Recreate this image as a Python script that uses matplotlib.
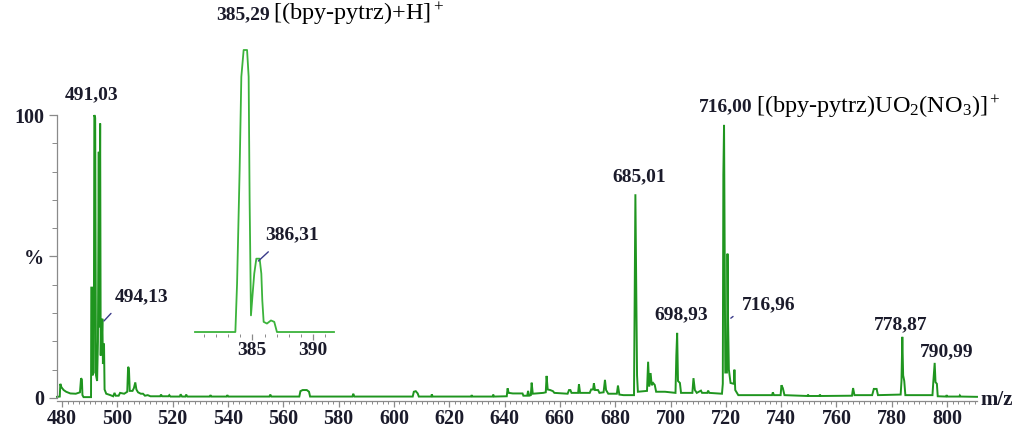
import matplotlib
matplotlib.use("Agg")
import matplotlib.pyplot as plt
from matplotlib.ticker import MultipleLocator, FixedLocator

plt.rcParams['font.family'] = ['Liberation Serif', 'DejaVu Serif']
plt.rcParams['mathtext.fontset'] = 'custom'
plt.rcParams['mathtext.rm'] = 'Liberation Serif'
plt.rcParams['mathtext.it'] = 'Liberation Serif:italic'
plt.rcParams['mathtext.bf'] = 'Liberation Serif:bold'

# --- spectrum profile (m/z, relative intensity %) ---
main_pts = [
    (478.2, 0.4), (479.2, 0.5), (479.4, 5.0), (479.8, 3.8), (480.6, 2.8), (481.5, 2.2),
    (483.0, 1.6), (485.0, 1.5), (486.5, 2.0), (486.9, 7.0), (487.2, 6.5), (487.4, 1.0),
    (487.8, 0.3), (490.5, 0.3), (490.6, 39.0), (490.9, 39.0), (491.0, 8.0), (491.5, 9.0),
    (491.7, 100.0), (492.0, 99.0), (492.3, 8.0), (492.7, 6.0), (493.0, 20.0), (493.3, 87.0),
    (493.5, 25.0), (493.8, 97.0), (494.0, 15.0), (494.2, 27.0), (494.4, 20.0), (494.6, 28.0),
    (494.8, 12.0), (495.0, 19.0), (495.2, 19.0), (495.4, 3.0), (496.0, 1.5), (497.5, 1.0),
    (498.5, 0.6), (499.0, 1.8), (499.4, 0.8), (500.5, 0.8), (501.0, 1.8), (502.5, 1.5),
    (503.6, 2.2), (503.9, 11.0), (504.2, 10.5), (504.5, 2.5), (505.5, 2.5), (506.0, 3.5),
    (506.5, 5.5), (506.9, 3.0), (507.5, 2.0), (508.5, 1.5), (509.3, 1.5), (510.0, 0.8),
    (511.0, 1.0), (512.0, 0.6), (515.5, 0.6), (515.8, 1.2), (516.2, 0.6), (518.5, 0.6),
    (518.8, 1.0), (519.2, 0.5), (522.6, 0.5), (522.9, 1.3), (523.4, 0.5), (524.6, 0.5),
    (524.9, 1.2), (525.3, 0.5), (533.4, 0.5), (533.7, 1.0), (534.0, 0.5), (539.5, 0.5),
    (539.8, 1.0), (540.1, 0.5), (555.0, 0.5), (555.3, 1.2), (555.7, 0.5), (565.8, 0.5),
    (566.2, 2.4), (567.0, 2.8), (568.5, 2.8), (569.3, 2.2), (569.7, 0.5), (585.0, 0.5),
    (585.3, 1.5), (585.7, 0.5), (606.8, 0.5), (607.2, 2.2), (607.9, 2.4), (608.6, 1.6),
    (609.0, 0.5), (613.5, 0.5), (613.7, 1.3), (614.0, 0.5), (627.9, 0.5), (628.1, 1.0),
    (628.4, 0.5), (635.7, 0.5), (635.9, 1.2), (636.2, 0.5), (640.8, 0.6), (641.1, 3.4),
    (641.5, 1.8), (643.0, 1.6), (646.5, 1.6), (646.8, 0.8), (648.2, 0.8), (648.5, 2.5),
    (648.9, 0.8), (649.5, 1.0), (649.8, 5.4), (650.2, 1.5), (654.0, 1.8), (654.9, 2.0),
    (655.2, 7.8), (655.6, 3.0), (656.5, 2.8), (657.5, 2.4), (658.0, 1.8), (662.8, 1.5),
    (663.3, 2.8), (663.8, 2.8), (664.2, 1.8), (666.6, 1.8), (666.9, 4.9), (667.3, 1.8),
    (670.8, 1.8), (671.3, 3.0), (672.0, 3.0), (672.3, 5.2), (672.7, 2.8), (673.8, 2.8),
    (674.3, 1.8), (675.8, 2.0), (676.3, 6.4), (676.7, 2.8), (677.5, 1.5), (680.6, 1.5),
    (681.0, 4.4), (681.5, 1.2), (683.0, 1.0), (686.8, 1.0), (687.0, 30.0), (687.3, 72.0),
    (687.6, 40.0), (687.9, 8.0), (688.2, 2.2), (691.5, 2.5), (691.9, 12.8), (692.3, 4.0),
    (692.8, 8.8), (693.2, 4.5), (693.7, 5.3), (694.3, 4.6), (694.8, 2.2), (698.0, 2.2),
    (701.8, 1.8), (702.1, 15.0), (702.4, 23.0), (702.7, 6.0), (703.4, 5.3), (703.8, 1.8),
    (707.9, 1.8), (708.3, 7.0), (708.8, 2.8), (709.5, 1.8), (711.0, 2.6), (711.4, 1.8),
    (713.3, 1.8), (713.6, 2.6), (714.0, 1.8), (718.6, 1.5), (718.9, 5.0), (719.1, 79.0),
    (719.35, 96.5), (719.6, 50.0), (719.8, 9.0), (720.4, 9.0), (720.6, 51.0), (720.8, 28.0),
    (721.1, 10.0), (721.7, 5.3), (722.9, 5.0), (723.1, 10.0), (723.4, 2.8), (724.5, 1.0),
    (736.7, 1.0), (737.0, 2.0), (737.4, 1.0), (739.8, 1.0), (740.1, 4.5), (740.6, 3.5),
    (741.2, 1.0), (749.5, 0.7), (749.7, 1.2), (750.0, 0.7), (753.8, 0.7), (754.0, 1.2),
    (754.3, 0.7), (765.6, 0.8), (766.0, 3.5), (766.5, 1.0), (772.9, 1.0), (773.5, 3.2),
    (774.5, 3.2), (775.0, 1.0), (783.2, 1.2), (783.5, 6.0), (783.8, 21.6), (784.1, 8.0),
    (784.5, 6.0), (784.9, 1.0), (794.7, 1.0), (795.0, 5.6), (795.5, 12.4), (795.8, 5.6),
    (796.3, 5.0), (796.6, 0.6), (799.6, 0.5), (799.8, 1.0), (800.1, 0.5), (804.4, 0.5),
    (804.6, 0.9), (804.9, 0.5), (810.8, 0.4),
]
main_mz = [p[0] for p in main_pts]
main_int = [p[1] for p in main_pts]

# inset: isotope pattern of [(bpy-pytrz)+H]+
inset_mz = [380.3, 383.61, 383.75, 383.96, 384.1, 384.29, 384.57, 384.7, 384.78, 384.89,
            385.05, 385.16, 385.33, 385.6, 385.74, 385.82, 385.93, 386.2, 386.53, 386.8,
            387.02, 391.7]
inset_int = [0, 0, 17.2, 57.4, 90.5, 100, 100, 90.5, 46.7, 5.9,
             14.8, 20.7, 26, 26, 20.7, 11.2, 3.6, 3.0, 4.1, 3.6,
             0, 0]

# peak labels: text, label x, label y
peak_labels = ["491,03", "685,01", "698,93", "716,96", "778,87", "790,99", "494,13", "716,00"]
peak_label_x = [490.85, 688.6, 703.8, 735.6, 783.3, 800.0, 508.6, 720.1]
peak_label_y = [107.1, 78.1, 29.3, 32.9, 25.8, 16.3, 35.7, 103.0]

x_ticks = list(range(480, 801, 20))
y_ticks = [0, 50, 100]
y_tick_labels = ["0", "%", "100"]
inset_ticks = [385, 390]

GREEN = '#1f951f'
GREY = '#8a8a8a'
INK = '#1b1b2b'

fig = plt.figure(figsize=(10.34, 4.32), dpi=100)
ax = fig.add_axes([57/1034, 31.2/432, 920/1034, 287.2/432])
ax.plot(main_mz, main_int, color=GREEN, lw=1.4, solid_joinstyle='miter', clip_on=False)
ax.set_xlim(478.2, 810.8)
ax.set_ylim(-1, 100.5)

for s in ['top', 'right']:
    ax.spines[s].set_visible(False)
ax.spines['left'].set_bounds(0, 100)
for s in ['left', 'bottom']:
    ax.spines[s].set_color(GREY)
    ax.spines[s].set_linewidth(0.9)

ax.set_xticks(x_ticks)
ax.xaxis.set_minor_locator(MultipleLocator(2))
ax.set_yticks(y_ticks)
ax.set_yticklabels(y_tick_labels)
ax.yaxis.set_minor_locator(MultipleLocator(10))
ax.tick_params(axis='x', which='major', length=4.5, width=0.9, color=GREY, pad=1.5,
               labelsize=14.5, labelcolor=INK)
ax.tick_params(axis='x', which='minor', length=2.5, width=0.7, color=GREY)
ax.tick_params(axis='y', which='major', length=6, width=0.9, color=GREY, pad=3,
               labelsize=14.5, labelcolor=INK)
ax.tick_params(axis='y', which='minor', length=3.5, width=0.7, color=GREY)
for lab in ax.get_xticklabels() + ax.get_yticklabels():
    lab.set_fontweight('bold')

for t, x, y in zip(peak_labels, peak_label_x, peak_label_y):
    ax.text(x, y, t, ha='center', va='center', fontsize=14, fontweight='bold',
            color=INK, clip_on=False)

ax.text(731.0, 100.7, r'[(bpy-pytrz)UO$_2$(NO$_3$)]$^+$', ha='left', va='baseline',
        fontsize=17.5, color='black', clip_on=False)
ax.text(812.0, -0.7, 'm/z', ha='left', va='center', fontsize=15, fontweight='bold',
        color=INK, clip_on=False)

# little arrows pointing at the minor peaks
ax.annotate('', xy=(494.5, 26.5), xytext=(498.4, 30.6),
            arrowprops=dict(arrowstyle='-', color='#3a3a8a', lw=1.0))
ax.annotate('', xy=(721.0, 27.6), xytext=(723.4, 29.4),
            arrowprops=dict(arrowstyle='-', color='#3a3a8a', lw=1.0))

# inset
axi = fig.add_axes([195/1034, (432-333.7)/432, 139/1034, 283.7/432])
axi.patch.set_visible(False)
axi.plot(inset_mz, inset_int, color='#3bb33b', lw=1.3, clip_on=False)
axi.set_xlim(380.3, 391.7)
axi.set_ylim(-0.6, 100)
for s in ['top', 'right', 'left', 'bottom']:
    axi.spines[s].set_visible(False)
axi.set_yticks([])
axi.set_xticks(inset_ticks)
axi.xaxis.set_minor_locator(FixedLocator(list(range(381, 392))))
axi.tick_params(axis='x', which='major', length=4.5, width=0.9, color=GREY, pad=1.5,
                labelsize=14, labelcolor=INK)
axi.tick_params(axis='x', which='minor', length=2.5, width=0.7, color=GREY)
for lab in axi.get_xticklabels():
    lab.set_fontweight('bold')

axi.text(384.26, 111.0, '385,29', ha='center', va='baseline', fontsize=14,
         fontweight='bold', color=INK, clip_on=False)
axi.text(386.72, 110.6, r'[(bpy-pytrz)+H]$^+$', ha='left', va='baseline',
         fontsize=17.5, color='black', clip_on=False)
axi.text(388.28, 34.4, '386,31', ha='center', va='center', fontsize=14,
         fontweight='bold', color=INK, clip_on=False)
axi.annotate('', xy=(385.33, 24.5), xytext=(386.48, 29.1),
             arrowprops=dict(arrowstyle='-', color='#3a3a8a', lw=1.0))

fig.savefig('out.png', dpi=100)
